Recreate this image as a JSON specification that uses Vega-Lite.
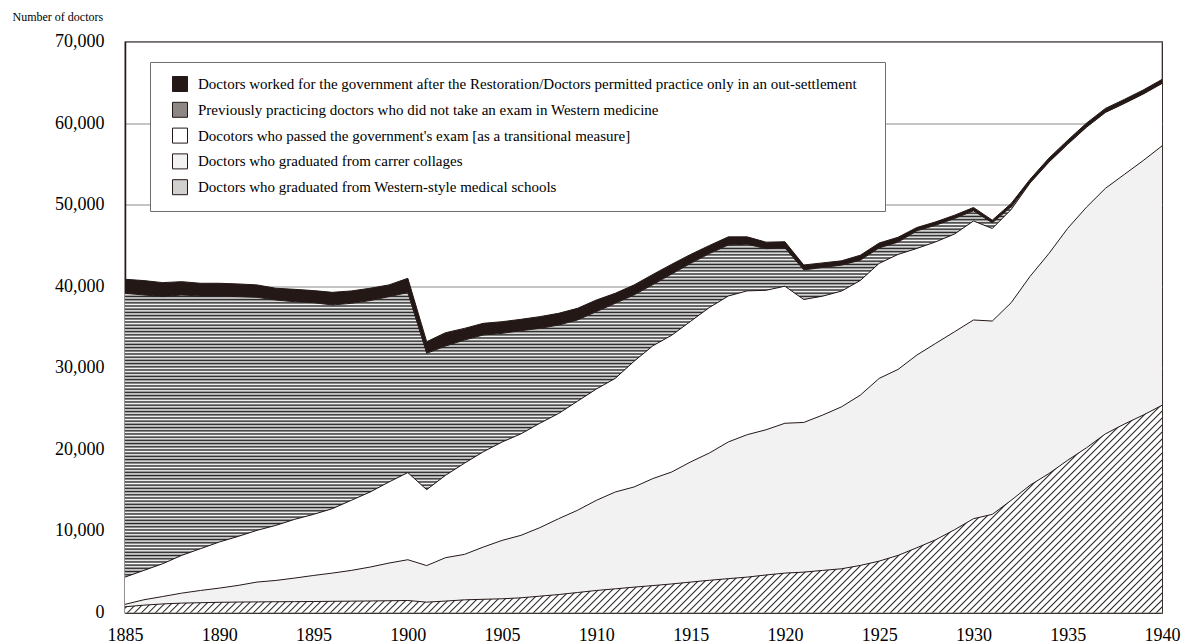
{
  "$schema": "https://vega.github.io/schema/vega-lite/v6.json",
  "autosize": {"type": "none"},
  "width": 1037,
  "height": 571,
  "padding": {"left": 125, "top": 41.5, "right": 22, "bottom": 31.5},
  "background": "white",
  "config": {
    "font": "Liberation Serif",
    "view": {"stroke": "#231815", "strokeWidth": 1.2},
    "axis": {"labelColor": "#000", "titleColor": "#000", "labelFont": "Liberation Serif", "titleFont": "Liberation Serif"}
  },
  "data": {"values": [
    {"year":1885,"western_top":700,"career_top":1000,"exam_top":4340,"previous_top":39130,"total":40850},
    {"year":1886,"western_top":900,"career_top":1560,"exam_top":5160,"previous_top":38930,"total":40690},
    {"year":1887,"western_top":1050,"career_top":1960,"exam_top":5980,"previous_top":38720,"total":40440},
    {"year":1888,"western_top":1150,"career_top":2370,"exam_top":7000,"previous_top":38930,"total":40560},
    {"year":1889,"western_top":1200,"career_top":2700,"exam_top":7820,"previous_top":38800,"total":40360},
    {"year":1890,"western_top":1250,"career_top":2990,"exam_top":8640,"previous_top":38800,"total":40360},
    {"year":1891,"western_top":1280,"career_top":3320,"exam_top":9330,"previous_top":38720,"total":40280},
    {"year":1892,"western_top":1300,"career_top":3730,"exam_top":10070,"previous_top":38640,"total":40160},
    {"year":1893,"western_top":1320,"career_top":3930,"exam_top":10680,"previous_top":38310,"total":39750},
    {"year":1894,"western_top":1330,"career_top":4220,"exam_top":11420,"previous_top":38100,"total":39620},
    {"year":1895,"western_top":1350,"career_top":4540,"exam_top":12030,"previous_top":37980,"total":39460},
    {"year":1896,"western_top":1370,"career_top":4830,"exam_top":12730,"previous_top":37700,"total":39250},
    {"year":1897,"western_top":1390,"career_top":5160,"exam_top":13750,"previous_top":37900,"total":39420},
    {"year":1898,"western_top":1410,"career_top":5570,"exam_top":14770,"previous_top":38240,"total":39750},
    {"year":1899,"western_top":1440,"career_top":6060,"exam_top":16000,"previous_top":38720,"total":40160},
    {"year":1900,"western_top":1470,"career_top":6470,"exam_top":17150,"previous_top":39220,"total":40970},
    {"year":1901,"western_top":1270,"career_top":5750,"exam_top":15060,"previous_top":31770,"total":33200},
    {"year":1902,"western_top":1400,"career_top":6720,"exam_top":16820,"previous_top":32660,"total":34300},
    {"year":1903,"western_top":1550,"career_top":7120,"exam_top":18300,"previous_top":33400,"total":34830},
    {"year":1904,"western_top":1620,"career_top":8020,"exam_top":19700,"previous_top":34020,"total":35450},
    {"year":1905,"western_top":1680,"career_top":8840,"exam_top":20900,"previous_top":34220,"total":35650},
    {"year":1906,"western_top":1800,"career_top":9460,"exam_top":21900,"previous_top":34550,"total":35940},
    {"year":1907,"western_top":2000,"career_top":10400,"exam_top":23200,"previous_top":34830,"total":36270},
    {"year":1908,"western_top":2200,"career_top":11500,"exam_top":24400,"previous_top":35240,"total":36680},
    {"year":1909,"western_top":2450,"career_top":12530,"exam_top":25900,"previous_top":35860,"total":37290},
    {"year":1910,"western_top":2700,"career_top":13750,"exam_top":27400,"previous_top":36880,"total":38310},
    {"year":1911,"western_top":2900,"career_top":14770,"exam_top":28700,"previous_top":37900,"total":39130},
    {"year":1912,"western_top":3110,"career_top":15390,"exam_top":30800,"previous_top":38930,"total":40160},
    {"year":1913,"western_top":3300,"career_top":16420,"exam_top":32700,"previous_top":40200,"total":41450},
    {"year":1914,"western_top":3500,"career_top":17230,"exam_top":34000,"previous_top":41500,"total":42700},
    {"year":1915,"western_top":3730,"career_top":18460,"exam_top":35700,"previous_top":42800,"total":43900},
    {"year":1916,"western_top":3950,"career_top":19560,"exam_top":37400,"previous_top":44000,"total":45000},
    {"year":1917,"western_top":4150,"career_top":20910,"exam_top":38800,"previous_top":45050,"total":46050},
    {"year":1918,"western_top":4340,"career_top":21800,"exam_top":39430,"previous_top":45150,"total":46050},
    {"year":1919,"western_top":4600,"career_top":22400,"exam_top":39500,"previous_top":44600,"total":45400},
    {"year":1920,"western_top":4830,"career_top":23200,"exam_top":40000,"previous_top":44700,"total":45450},
    {"year":1921,"western_top":4950,"career_top":23300,"exam_top":38370,"previous_top":42000,"total":42600},
    {"year":1922,"western_top":5160,"career_top":24200,"exam_top":38780,"previous_top":42300,"total":42860},
    {"year":1923,"western_top":5360,"career_top":25210,"exam_top":39400,"previous_top":42580,"total":43110},
    {"year":1924,"western_top":5770,"career_top":26650,"exam_top":40700,"previous_top":43190,"total":43800},
    {"year":1925,"western_top":6300,"career_top":28700,"exam_top":42800,"previous_top":44700,"total":45300},
    {"year":1926,"western_top":7000,"career_top":29800,"exam_top":43900,"previous_top":45400,"total":46000},
    {"year":1927,"western_top":7940,"career_top":31560,"exam_top":44630,"previous_top":46790,"total":47200},
    {"year":1928,"western_top":8920,"career_top":33000,"exam_top":45440,"previous_top":47480,"total":47890},
    {"year":1929,"western_top":10150,"career_top":34420,"exam_top":46400,"previous_top":48300,"total":48710},
    {"year":1930,"western_top":11500,"career_top":35860,"exam_top":48000,"previous_top":49240,"total":49650},
    {"year":1931,"western_top":12030,"career_top":35730,"exam_top":47080,"previous_top":47770,"total":48100},
    {"year":1932,"western_top":13750,"career_top":37980,"exam_top":49400,"previous_top":49730,"total":50140},
    {"year":1933,"western_top":15600,"career_top":41200,"exam_top":52650,"previous_top":52700,"total":53100},
    {"year":1934,"western_top":17030,"career_top":44000,"exam_top":55200,"previous_top":55250,"total":55700},
    {"year":1935,"western_top":18670,"career_top":47100,"exam_top":57400,"previous_top":57450,"total":57900},
    {"year":1936,"western_top":20200,"career_top":49700,"exam_top":59500,"previous_top":59550,"total":60000},
    {"year":1937,"western_top":21900,"career_top":52000,"exam_top":61300,"previous_top":61350,"total":61800},
    {"year":1938,"western_top":23100,"career_top":53700,"exam_top":62400,"previous_top":62450,"total":62900},
    {"year":1939,"western_top":24200,"career_top":55400,"exam_top":63550,"previous_top":63600,"total":64050},
    {"year":1940,"western_top":25400,"career_top":57200,"exam_top":64850,"previous_top":64900,"total":65350}
  ]},
  "encoding": {
    "x": {"field": "year", "type": "quantitative",
      "scale": {"domain": [1885, 1940], "nice": false, "zero": false},
      "axis": {"title": null, "values": [1885,1890,1895,1900,1905,1910,1915,1920,1925,1930,1935,1940], "format": "d",
        "grid": false, "ticks": false, "labelFontSize": 18, "labelPadding": 14, "labelFlush": false, "labelOverlap": false,
        "domainColor": "#231815", "domainWidth": 1.5}}
  },
  "layer": [
    {"mark": {"type": "area", "opacity": 1},
     "encoding": {
       "y": {"field": "western_top", "type": "quantitative",
         "scale": {"domain": [0, 70000], "nice": false},
         "axis": {"title": "Number of doctors", "titleAngle": 0, "titleAlign": "left", "titleBaseline": "alphabetic",
           "titleX": -113, "titleY": -21, "titleFontSize": 12, "titleFontWeight": "normal",
           "values": [0,10000,20000,30000,40000,50000,60000,70000], "format": ",.0f",
           "grid": true, "gridColor": "#8a8a8a", "gridWidth": 1, "ticks": false,
           "labelFontSize": 18, "labelPadding": 21, "labelFlush": false, "labelOverlap": false,
           "domainColor": "#231815", "domainWidth": 1.5}},
       "y2": {"datum": 0},
       "color": {"datum": "Doctors who graduated from Western-style medical schools", "type": "nominal",
         "scale": {
           "domain": [
             "Doctors worked for the government after the Restoration/Doctors permitted practice only in an out-settlement",
             "Previously practicing doctors who did not take an exam in Western medicine",
             "Docotors who passed the government's exam [as a transitional measure]",
             "Doctors who graduated from carrer collages",
             "Doctors who graduated from Western-style medical schools"],
           "range": ["#231815", "#8c8685", "#ffffff", "#f2f2f2", "#d2cfcf"]},
         "legend": {"title": "\u00a0", "titleOrient": "right", "titlePadding": 14, "titleFontSize": 15,
           "orient": "none", "legendX": 25, "legendY": 20.5,
           "padding": 14, "symbolType": "square", "symbolSize": 225, "symbolStrokeColor": "#231815", "symbolStrokeWidth": 1,
           "symbolOffset": 8, "labelOffset": 10, "labelFontSize": 15, "labelFont": "Liberation Serif", "labelColor": "#000",
           "labelLimit": 1000, "rowPadding": 5.8, "strokeColor": "#6e6e6e", "fillColor": "white", "symbolOpacity": 1}}
     }},
    {"mark": {"type": "area", "opacity": 1},
     "encoding": {"y": {"field": "career_top", "type": "quantitative"}, "y2": {"field": "western_top"},
       "color": {"datum": "Doctors who graduated from carrer collages", "type": "nominal"}}},
    {"mark": {"type": "area", "opacity": 1},
     "encoding": {"y": {"field": "exam_top", "type": "quantitative"}, "y2": {"field": "career_top"},
       "color": {"datum": "Docotors who passed the government's exam [as a transitional measure]", "type": "nominal"}}},
    {"mark": {"type": "area", "opacity": 1},
     "encoding": {"y": {"field": "previous_top", "type": "quantitative"}, "y2": {"field": "exam_top"},
       "color": {"datum": "Previously practicing doctors who did not take an exam in Western medicine", "type": "nominal"}}},
    {"mark": {"type": "area", "opacity": 1},
     "encoding": {"y": {"field": "total", "type": "quantitative"}, "y2": {"field": "previous_top"},
       "color": {"datum": "Doctors worked for the government after the Restoration/Doctors permitted practice only in an out-settlement", "type": "nominal"}}},
    {"transform": [{"filter": "datum.year <= 1932"}],
     "mark": {"type": "area", "opacity": 1, "fill": {"gradient": "linear", "x1": 0, "y1": 0, "x2": 0, "y2": 1.08, "stops": [
{"offset":0,"color":"#222"},{"offset":0.004,"color":"#fff"},{"offset":0.008,"color":"#222"},{"offset":0.012,"color":"#fff"},{"offset":0.016,"color":"#222"},{"offset":0.02,"color":"#fff"},{"offset":0.024,"color":"#222"},{"offset":0.028,"color":"#fff"},{"offset":0.032,"color":"#222"},{"offset":0.036,"color":"#fff"},
{"offset":0.04,"color":"#222"},{"offset":0.044,"color":"#fff"},{"offset":0.048,"color":"#222"},{"offset":0.052,"color":"#fff"},{"offset":0.056,"color":"#222"},{"offset":0.06,"color":"#fff"},{"offset":0.064,"color":"#222"},{"offset":0.068,"color":"#fff"},{"offset":0.072,"color":"#222"},{"offset":0.076,"color":"#fff"},
{"offset":0.08,"color":"#222"},{"offset":0.084,"color":"#fff"},{"offset":0.088,"color":"#222"},{"offset":0.092,"color":"#fff"},{"offset":0.096,"color":"#222"},{"offset":0.1,"color":"#fff"},{"offset":0.104,"color":"#222"},{"offset":0.108,"color":"#fff"},{"offset":0.112,"color":"#222"},{"offset":0.116,"color":"#fff"},
{"offset":0.12,"color":"#222"},{"offset":0.124,"color":"#fff"},{"offset":0.128,"color":"#222"},{"offset":0.132,"color":"#fff"},{"offset":0.136,"color":"#222"},{"offset":0.14,"color":"#fff"},{"offset":0.144,"color":"#222"},{"offset":0.148,"color":"#fff"},{"offset":0.152,"color":"#222"},{"offset":0.156,"color":"#fff"},
{"offset":0.16,"color":"#222"},{"offset":0.164,"color":"#fff"},{"offset":0.168,"color":"#222"},{"offset":0.172,"color":"#fff"},{"offset":0.176,"color":"#222"},{"offset":0.18,"color":"#fff"},{"offset":0.184,"color":"#222"},{"offset":0.188,"color":"#fff"},{"offset":0.192,"color":"#222"},{"offset":0.196,"color":"#fff"},
{"offset":0.2,"color":"#222"},{"offset":0.204,"color":"#fff"},{"offset":0.208,"color":"#222"},{"offset":0.212,"color":"#fff"},{"offset":0.216,"color":"#222"},{"offset":0.22,"color":"#fff"},{"offset":0.224,"color":"#222"},{"offset":0.228,"color":"#fff"},{"offset":0.232,"color":"#222"},{"offset":0.236,"color":"#fff"},
{"offset":0.24,"color":"#222"},{"offset":0.244,"color":"#fff"},{"offset":0.248,"color":"#222"},{"offset":0.252,"color":"#fff"},{"offset":0.256,"color":"#222"},{"offset":0.26,"color":"#fff"},{"offset":0.264,"color":"#222"},{"offset":0.268,"color":"#fff"},{"offset":0.272,"color":"#222"},{"offset":0.276,"color":"#fff"},
{"offset":0.28,"color":"#222"},{"offset":0.284,"color":"#fff"},{"offset":0.288,"color":"#222"},{"offset":0.292,"color":"#fff"},{"offset":0.296,"color":"#222"},{"offset":0.3,"color":"#fff"},{"offset":0.304,"color":"#222"},{"offset":0.308,"color":"#fff"},{"offset":0.312,"color":"#222"},{"offset":0.316,"color":"#fff"},
{"offset":0.32,"color":"#222"},{"offset":0.324,"color":"#fff"},{"offset":0.328,"color":"#222"},{"offset":0.332,"color":"#fff"},{"offset":0.336,"color":"#222"},{"offset":0.34,"color":"#fff"},{"offset":0.344,"color":"#222"},{"offset":0.348,"color":"#fff"},{"offset":0.352,"color":"#222"},{"offset":0.356,"color":"#fff"},
{"offset":0.36,"color":"#222"},{"offset":0.364,"color":"#fff"},{"offset":0.368,"color":"#222"},{"offset":0.372,"color":"#fff"},{"offset":0.376,"color":"#222"},{"offset":0.38,"color":"#fff"},{"offset":0.384,"color":"#222"},{"offset":0.388,"color":"#fff"},{"offset":0.392,"color":"#222"},{"offset":0.396,"color":"#fff"},
{"offset":0.4,"color":"#222"},{"offset":0.404,"color":"#fff"},{"offset":0.408,"color":"#222"},{"offset":0.412,"color":"#fff"},{"offset":0.416,"color":"#222"},{"offset":0.42,"color":"#fff"},{"offset":0.424,"color":"#222"},{"offset":0.428,"color":"#fff"},{"offset":0.432,"color":"#222"},{"offset":0.436,"color":"#fff"},
{"offset":0.44,"color":"#222"},{"offset":0.444,"color":"#fff"},{"offset":0.448,"color":"#222"},{"offset":0.452,"color":"#fff"},{"offset":0.456,"color":"#222"},{"offset":0.46,"color":"#fff"},{"offset":0.464,"color":"#222"},{"offset":0.468,"color":"#fff"},{"offset":0.472,"color":"#222"},{"offset":0.476,"color":"#fff"},
{"offset":0.48,"color":"#222"},{"offset":0.484,"color":"#fff"},{"offset":0.488,"color":"#222"},{"offset":0.492,"color":"#fff"},{"offset":0.496,"color":"#222"},{"offset":0.5,"color":"#fff"},{"offset":0.504,"color":"#222"},{"offset":0.508,"color":"#fff"},{"offset":0.512,"color":"#222"},{"offset":0.516,"color":"#fff"},
{"offset":0.52,"color":"#222"},{"offset":0.524,"color":"#fff"},{"offset":0.528,"color":"#222"},{"offset":0.532,"color":"#fff"},{"offset":0.536,"color":"#222"},{"offset":0.54,"color":"#fff"},{"offset":0.544,"color":"#222"},{"offset":0.548,"color":"#fff"},{"offset":0.552,"color":"#222"},{"offset":0.556,"color":"#fff"},
{"offset":0.56,"color":"#222"},{"offset":0.564,"color":"#fff"},{"offset":0.568,"color":"#222"},{"offset":0.572,"color":"#fff"},{"offset":0.576,"color":"#222"},{"offset":0.58,"color":"#fff"},{"offset":0.584,"color":"#222"},{"offset":0.588,"color":"#fff"},{"offset":0.592,"color":"#222"},{"offset":0.596,"color":"#fff"},
{"offset":0.6,"color":"#222"},{"offset":0.604,"color":"#fff"},{"offset":0.608,"color":"#222"},{"offset":0.612,"color":"#fff"},{"offset":0.616,"color":"#222"},{"offset":0.62,"color":"#fff"},{"offset":0.624,"color":"#222"},{"offset":0.628,"color":"#fff"},{"offset":0.632,"color":"#222"},{"offset":0.636,"color":"#fff"},
{"offset":0.64,"color":"#222"},{"offset":0.644,"color":"#fff"},{"offset":0.648,"color":"#222"},{"offset":0.652,"color":"#fff"},{"offset":0.656,"color":"#222"},{"offset":0.66,"color":"#fff"},{"offset":0.664,"color":"#222"},{"offset":0.668,"color":"#fff"},{"offset":0.672,"color":"#222"},{"offset":0.676,"color":"#fff"},
{"offset":0.68,"color":"#222"},{"offset":0.684,"color":"#fff"},{"offset":0.688,"color":"#222"},{"offset":0.692,"color":"#fff"},{"offset":0.696,"color":"#222"},{"offset":0.7,"color":"#fff"},{"offset":0.704,"color":"#222"},{"offset":0.708,"color":"#fff"},{"offset":0.712,"color":"#222"},{"offset":0.716,"color":"#fff"},
{"offset":0.72,"color":"#222"},{"offset":0.724,"color":"#fff"},{"offset":0.728,"color":"#222"},{"offset":0.732,"color":"#fff"},{"offset":0.736,"color":"#222"},{"offset":0.74,"color":"#fff"},{"offset":0.744,"color":"#222"},{"offset":0.748,"color":"#fff"},{"offset":0.752,"color":"#222"},{"offset":0.756,"color":"#fff"},
{"offset":0.76,"color":"#222"},{"offset":0.764,"color":"#fff"},{"offset":0.768,"color":"#222"},{"offset":0.772,"color":"#fff"},{"offset":0.776,"color":"#222"},{"offset":0.78,"color":"#fff"},{"offset":0.784,"color":"#222"},{"offset":0.788,"color":"#fff"},{"offset":0.792,"color":"#222"},{"offset":0.796,"color":"#fff"},
{"offset":0.8,"color":"#222"},{"offset":0.804,"color":"#fff"},{"offset":0.808,"color":"#222"},{"offset":0.812,"color":"#fff"},{"offset":0.816,"color":"#222"},{"offset":0.82,"color":"#fff"},{"offset":0.824,"color":"#222"},{"offset":0.828,"color":"#fff"},{"offset":0.832,"color":"#222"},{"offset":0.836,"color":"#fff"},
{"offset":0.84,"color":"#222"},{"offset":0.844,"color":"#fff"},{"offset":0.848,"color":"#222"},{"offset":0.852,"color":"#fff"},{"offset":0.856,"color":"#222"},{"offset":0.86,"color":"#fff"},{"offset":0.864,"color":"#222"},{"offset":0.868,"color":"#fff"},{"offset":0.872,"color":"#222"},{"offset":0.876,"color":"#fff"},
{"offset":0.88,"color":"#222"},{"offset":0.884,"color":"#fff"},{"offset":0.888,"color":"#222"},{"offset":0.892,"color":"#fff"},{"offset":0.896,"color":"#222"},{"offset":0.9,"color":"#fff"},{"offset":0.904,"color":"#222"},{"offset":0.908,"color":"#fff"},{"offset":0.912,"color":"#222"},{"offset":0.916,"color":"#fff"},
{"offset":0.92,"color":"#222"},{"offset":0.924,"color":"#fff"},{"offset":0.928,"color":"#222"},{"offset":0.932,"color":"#fff"},{"offset":0.936,"color":"#222"},{"offset":0.94,"color":"#fff"}
     ]}},
     "encoding": {"y": {"field": "previous_top", "type": "quantitative"}, "y2": {"field": "exam_top"}}},
    {"mark": {"type": "area", "opacity": 1, "fill": {"gradient": "linear", "x1": 0, "y1": 0, "x2": 1.298, "y2": 0.2594, "stops": [
{"offset":0,"color":"#222"},{"offset":0.001,"color":"#fff"},{"offset":0.004,"color":"#fff"},{"offset":0.005,"color":"#222"},{"offset":0.006,"color":"#fff"},{"offset":0.009,"color":"#fff"},{"offset":0.01,"color":"#222"},{"offset":0.011,"color":"#fff"},{"offset":0.014,"color":"#fff"},{"offset":0.015,"color":"#222"},{"offset":0.016,"color":"#fff"},{"offset":0.019,"color":"#fff"},{"offset":0.02,"color":"#222"},{"offset":0.021,"color":"#fff"},{"offset":0.024,"color":"#fff"},{"offset":0.025,"color":"#222"},{"offset":0.026,"color":"#fff"},{"offset":0.029,"color":"#fff"},{"offset":0.03,"color":"#222"},{"offset":0.031,"color":"#fff"},{"offset":0.034,"color":"#fff"},{"offset":0.035,"color":"#222"},{"offset":0.036,"color":"#fff"},{"offset":0.039,"color":"#fff"},{"offset":0.04,"color":"#222"},{"offset":0.041,"color":"#fff"},{"offset":0.044,"color":"#fff"},{"offset":0.045,"color":"#222"},{"offset":0.046,"color":"#fff"},{"offset":0.049,"color":"#fff"},
{"offset":0.05,"color":"#222"},{"offset":0.051,"color":"#fff"},{"offset":0.054,"color":"#fff"},{"offset":0.055,"color":"#222"},{"offset":0.056,"color":"#fff"},{"offset":0.059,"color":"#fff"},{"offset":0.06,"color":"#222"},{"offset":0.061,"color":"#fff"},{"offset":0.064,"color":"#fff"},{"offset":0.065,"color":"#222"},{"offset":0.066,"color":"#fff"},{"offset":0.069,"color":"#fff"},{"offset":0.07,"color":"#222"},{"offset":0.071,"color":"#fff"},{"offset":0.074,"color":"#fff"},{"offset":0.075,"color":"#222"},{"offset":0.076,"color":"#fff"},{"offset":0.079,"color":"#fff"},{"offset":0.08,"color":"#222"},{"offset":0.081,"color":"#fff"},{"offset":0.084,"color":"#fff"},{"offset":0.085,"color":"#222"},{"offset":0.086,"color":"#fff"},{"offset":0.089,"color":"#fff"},{"offset":0.09,"color":"#222"},{"offset":0.091,"color":"#fff"},{"offset":0.094,"color":"#fff"},{"offset":0.095,"color":"#222"},{"offset":0.096,"color":"#fff"},{"offset":0.099,"color":"#fff"},
{"offset":0.1,"color":"#222"},{"offset":0.101,"color":"#fff"},{"offset":0.104,"color":"#fff"},{"offset":0.105,"color":"#222"},{"offset":0.106,"color":"#fff"},{"offset":0.109,"color":"#fff"},{"offset":0.11,"color":"#222"},{"offset":0.111,"color":"#fff"},{"offset":0.114,"color":"#fff"},{"offset":0.115,"color":"#222"},{"offset":0.116,"color":"#fff"},{"offset":0.119,"color":"#fff"},{"offset":0.12,"color":"#222"},{"offset":0.121,"color":"#fff"},{"offset":0.124,"color":"#fff"},{"offset":0.125,"color":"#222"},{"offset":0.126,"color":"#fff"},{"offset":0.129,"color":"#fff"},{"offset":0.13,"color":"#222"},{"offset":0.131,"color":"#fff"},{"offset":0.134,"color":"#fff"},{"offset":0.135,"color":"#222"},{"offset":0.136,"color":"#fff"},{"offset":0.139,"color":"#fff"},{"offset":0.14,"color":"#222"},{"offset":0.141,"color":"#fff"},{"offset":0.144,"color":"#fff"},{"offset":0.145,"color":"#222"},{"offset":0.146,"color":"#fff"},{"offset":0.149,"color":"#fff"},
{"offset":0.15,"color":"#222"},{"offset":0.151,"color":"#fff"},{"offset":0.154,"color":"#fff"},{"offset":0.155,"color":"#222"},{"offset":0.156,"color":"#fff"},{"offset":0.159,"color":"#fff"},{"offset":0.16,"color":"#222"},{"offset":0.161,"color":"#fff"},{"offset":0.164,"color":"#fff"},{"offset":0.165,"color":"#222"},{"offset":0.166,"color":"#fff"},{"offset":0.169,"color":"#fff"},{"offset":0.17,"color":"#222"},{"offset":0.171,"color":"#fff"},{"offset":0.174,"color":"#fff"},{"offset":0.175,"color":"#222"},{"offset":0.176,"color":"#fff"},{"offset":0.179,"color":"#fff"},{"offset":0.18,"color":"#222"},{"offset":0.181,"color":"#fff"},{"offset":0.184,"color":"#fff"},{"offset":0.185,"color":"#222"},{"offset":0.186,"color":"#fff"},{"offset":0.189,"color":"#fff"},{"offset":0.19,"color":"#222"},{"offset":0.191,"color":"#fff"},{"offset":0.194,"color":"#fff"},{"offset":0.195,"color":"#222"},{"offset":0.196,"color":"#fff"},{"offset":0.199,"color":"#fff"},
{"offset":0.2,"color":"#222"},{"offset":0.201,"color":"#fff"},{"offset":0.204,"color":"#fff"},{"offset":0.205,"color":"#222"},{"offset":0.206,"color":"#fff"},{"offset":0.209,"color":"#fff"},{"offset":0.21,"color":"#222"},{"offset":0.211,"color":"#fff"},{"offset":0.214,"color":"#fff"},{"offset":0.215,"color":"#222"},{"offset":0.216,"color":"#fff"},{"offset":0.219,"color":"#fff"},{"offset":0.22,"color":"#222"},{"offset":0.221,"color":"#fff"},{"offset":0.224,"color":"#fff"},{"offset":0.225,"color":"#222"},{"offset":0.226,"color":"#fff"},{"offset":0.229,"color":"#fff"},{"offset":0.23,"color":"#222"},{"offset":0.231,"color":"#fff"},{"offset":0.234,"color":"#fff"},{"offset":0.235,"color":"#222"},{"offset":0.236,"color":"#fff"},{"offset":0.239,"color":"#fff"},{"offset":0.24,"color":"#222"},{"offset":0.241,"color":"#fff"},{"offset":0.244,"color":"#fff"},{"offset":0.245,"color":"#222"},{"offset":0.246,"color":"#fff"},{"offset":0.249,"color":"#fff"},
{"offset":0.25,"color":"#222"},{"offset":0.251,"color":"#fff"},{"offset":0.254,"color":"#fff"},{"offset":0.255,"color":"#222"},{"offset":0.256,"color":"#fff"},{"offset":0.259,"color":"#fff"},{"offset":0.26,"color":"#222"},{"offset":0.261,"color":"#fff"},{"offset":0.264,"color":"#fff"},{"offset":0.265,"color":"#222"},{"offset":0.266,"color":"#fff"},{"offset":0.269,"color":"#fff"},{"offset":0.27,"color":"#222"},{"offset":0.271,"color":"#fff"},{"offset":0.274,"color":"#fff"},{"offset":0.275,"color":"#222"},{"offset":0.276,"color":"#fff"},{"offset":0.279,"color":"#fff"},{"offset":0.28,"color":"#222"},{"offset":0.281,"color":"#fff"},{"offset":0.284,"color":"#fff"},{"offset":0.285,"color":"#222"},{"offset":0.286,"color":"#fff"},{"offset":0.289,"color":"#fff"},{"offset":0.29,"color":"#222"},{"offset":0.291,"color":"#fff"},{"offset":0.294,"color":"#fff"},{"offset":0.295,"color":"#222"},{"offset":0.296,"color":"#fff"},{"offset":0.299,"color":"#fff"},
{"offset":0.3,"color":"#222"},{"offset":0.301,"color":"#fff"},{"offset":0.304,"color":"#fff"},{"offset":0.305,"color":"#222"},{"offset":0.306,"color":"#fff"},{"offset":0.309,"color":"#fff"},{"offset":0.31,"color":"#222"},{"offset":0.311,"color":"#fff"},{"offset":0.314,"color":"#fff"},{"offset":0.315,"color":"#222"},{"offset":0.316,"color":"#fff"},{"offset":0.319,"color":"#fff"},{"offset":0.32,"color":"#222"},{"offset":0.321,"color":"#fff"},{"offset":0.324,"color":"#fff"},{"offset":0.325,"color":"#222"},{"offset":0.326,"color":"#fff"},{"offset":0.329,"color":"#fff"},{"offset":0.33,"color":"#222"},{"offset":0.331,"color":"#fff"},{"offset":0.334,"color":"#fff"},{"offset":0.335,"color":"#222"},{"offset":0.336,"color":"#fff"},{"offset":0.339,"color":"#fff"},{"offset":0.34,"color":"#222"},{"offset":0.341,"color":"#fff"},{"offset":0.344,"color":"#fff"},{"offset":0.345,"color":"#222"},{"offset":0.346,"color":"#fff"},{"offset":0.349,"color":"#fff"},
{"offset":0.35,"color":"#222"},{"offset":0.351,"color":"#fff"},{"offset":0.354,"color":"#fff"},{"offset":0.355,"color":"#222"},{"offset":0.356,"color":"#fff"},{"offset":0.359,"color":"#fff"},{"offset":0.36,"color":"#222"},{"offset":0.361,"color":"#fff"},{"offset":0.364,"color":"#fff"},{"offset":0.365,"color":"#222"},{"offset":0.366,"color":"#fff"},{"offset":0.369,"color":"#fff"},{"offset":0.37,"color":"#222"},{"offset":0.371,"color":"#fff"},{"offset":0.374,"color":"#fff"},{"offset":0.375,"color":"#222"},{"offset":0.376,"color":"#fff"},{"offset":0.379,"color":"#fff"},{"offset":0.38,"color":"#222"},{"offset":0.381,"color":"#fff"},{"offset":0.384,"color":"#fff"},{"offset":0.385,"color":"#222"},{"offset":0.386,"color":"#fff"},{"offset":0.389,"color":"#fff"},{"offset":0.39,"color":"#222"},{"offset":0.391,"color":"#fff"},{"offset":0.394,"color":"#fff"},{"offset":0.395,"color":"#222"},{"offset":0.396,"color":"#fff"},{"offset":0.399,"color":"#fff"},
{"offset":0.4,"color":"#222"},{"offset":0.401,"color":"#fff"},{"offset":0.404,"color":"#fff"},{"offset":0.405,"color":"#222"},{"offset":0.406,"color":"#fff"},{"offset":0.409,"color":"#fff"},{"offset":0.41,"color":"#222"},{"offset":0.411,"color":"#fff"},{"offset":0.414,"color":"#fff"},{"offset":0.415,"color":"#222"},{"offset":0.416,"color":"#fff"},{"offset":0.419,"color":"#fff"},{"offset":0.42,"color":"#222"},{"offset":0.421,"color":"#fff"},{"offset":0.424,"color":"#fff"},{"offset":0.425,"color":"#222"},{"offset":0.426,"color":"#fff"},{"offset":0.429,"color":"#fff"},{"offset":0.43,"color":"#222"},{"offset":0.431,"color":"#fff"},{"offset":0.434,"color":"#fff"},{"offset":0.435,"color":"#222"},{"offset":0.436,"color":"#fff"},{"offset":0.439,"color":"#fff"},{"offset":0.44,"color":"#222"},{"offset":0.441,"color":"#fff"},{"offset":0.444,"color":"#fff"},{"offset":0.445,"color":"#222"},{"offset":0.446,"color":"#fff"},{"offset":0.449,"color":"#fff"},
{"offset":0.45,"color":"#222"},{"offset":0.451,"color":"#fff"},{"offset":0.454,"color":"#fff"},{"offset":0.455,"color":"#222"},{"offset":0.456,"color":"#fff"},{"offset":0.459,"color":"#fff"},{"offset":0.46,"color":"#222"},{"offset":0.461,"color":"#fff"},{"offset":0.464,"color":"#fff"},{"offset":0.465,"color":"#222"},{"offset":0.466,"color":"#fff"},{"offset":0.469,"color":"#fff"},{"offset":0.47,"color":"#222"},{"offset":0.471,"color":"#fff"},{"offset":0.474,"color":"#fff"},{"offset":0.475,"color":"#222"},{"offset":0.476,"color":"#fff"},{"offset":0.479,"color":"#fff"},{"offset":0.48,"color":"#222"},{"offset":0.481,"color":"#fff"},{"offset":0.484,"color":"#fff"},{"offset":0.485,"color":"#222"},{"offset":0.486,"color":"#fff"},{"offset":0.489,"color":"#fff"},{"offset":0.49,"color":"#222"},{"offset":0.491,"color":"#fff"},{"offset":0.494,"color":"#fff"},{"offset":0.495,"color":"#222"},{"offset":0.496,"color":"#fff"},{"offset":0.499,"color":"#fff"},
{"offset":0.5,"color":"#222"},{"offset":0.501,"color":"#fff"},{"offset":0.504,"color":"#fff"},{"offset":0.505,"color":"#222"},{"offset":0.506,"color":"#fff"},{"offset":0.509,"color":"#fff"},{"offset":0.51,"color":"#222"},{"offset":0.511,"color":"#fff"},{"offset":0.514,"color":"#fff"},{"offset":0.515,"color":"#222"},{"offset":0.516,"color":"#fff"},{"offset":0.519,"color":"#fff"},{"offset":0.52,"color":"#222"},{"offset":0.521,"color":"#fff"},{"offset":0.524,"color":"#fff"},{"offset":0.525,"color":"#222"},{"offset":0.526,"color":"#fff"},{"offset":0.529,"color":"#fff"},{"offset":0.53,"color":"#222"},{"offset":0.531,"color":"#fff"},{"offset":0.534,"color":"#fff"},{"offset":0.535,"color":"#222"},{"offset":0.536,"color":"#fff"},{"offset":0.539,"color":"#fff"},{"offset":0.54,"color":"#222"},{"offset":0.541,"color":"#fff"},{"offset":0.544,"color":"#fff"},{"offset":0.545,"color":"#222"},{"offset":0.546,"color":"#fff"},{"offset":0.549,"color":"#fff"},
{"offset":0.55,"color":"#222"},{"offset":0.551,"color":"#fff"},{"offset":0.554,"color":"#fff"},{"offset":0.555,"color":"#222"},{"offset":0.556,"color":"#fff"},{"offset":0.559,"color":"#fff"},{"offset":0.56,"color":"#222"},{"offset":0.561,"color":"#fff"},{"offset":0.564,"color":"#fff"},{"offset":0.565,"color":"#222"},{"offset":0.566,"color":"#fff"},{"offset":0.569,"color":"#fff"},{"offset":0.57,"color":"#222"},{"offset":0.571,"color":"#fff"},{"offset":0.574,"color":"#fff"},{"offset":0.575,"color":"#222"},{"offset":0.576,"color":"#fff"},{"offset":0.579,"color":"#fff"},{"offset":0.58,"color":"#222"},{"offset":0.581,"color":"#fff"},{"offset":0.584,"color":"#fff"},{"offset":0.585,"color":"#222"},{"offset":0.586,"color":"#fff"},{"offset":0.589,"color":"#fff"},{"offset":0.59,"color":"#222"},{"offset":0.591,"color":"#fff"},{"offset":0.594,"color":"#fff"},{"offset":0.595,"color":"#222"},{"offset":0.596,"color":"#fff"},{"offset":0.599,"color":"#fff"},
{"offset":0.6,"color":"#222"},{"offset":0.601,"color":"#fff"},{"offset":0.604,"color":"#fff"},{"offset":0.605,"color":"#222"},{"offset":0.606,"color":"#fff"},{"offset":0.609,"color":"#fff"},{"offset":0.61,"color":"#222"},{"offset":0.611,"color":"#fff"},{"offset":0.614,"color":"#fff"},{"offset":0.615,"color":"#222"},{"offset":0.616,"color":"#fff"},{"offset":0.619,"color":"#fff"},{"offset":0.62,"color":"#222"},{"offset":0.621,"color":"#fff"},{"offset":0.624,"color":"#fff"},{"offset":0.625,"color":"#222"},{"offset":0.626,"color":"#fff"},{"offset":0.629,"color":"#fff"},{"offset":0.63,"color":"#222"},{"offset":0.631,"color":"#fff"},{"offset":0.634,"color":"#fff"},{"offset":0.635,"color":"#222"},{"offset":0.636,"color":"#fff"},{"offset":0.639,"color":"#fff"},{"offset":0.64,"color":"#222"},{"offset":0.641,"color":"#fff"},{"offset":0.644,"color":"#fff"},{"offset":0.645,"color":"#222"},{"offset":0.646,"color":"#fff"},{"offset":0.649,"color":"#fff"},
{"offset":0.65,"color":"#222"},{"offset":0.651,"color":"#fff"},{"offset":0.654,"color":"#fff"},{"offset":0.655,"color":"#222"},{"offset":0.656,"color":"#fff"},{"offset":0.659,"color":"#fff"},{"offset":0.66,"color":"#222"},{"offset":0.661,"color":"#fff"},{"offset":0.664,"color":"#fff"},{"offset":0.665,"color":"#222"},{"offset":0.666,"color":"#fff"},{"offset":0.669,"color":"#fff"},{"offset":0.67,"color":"#222"},{"offset":0.671,"color":"#fff"},{"offset":0.674,"color":"#fff"},{"offset":0.675,"color":"#222"},{"offset":0.676,"color":"#fff"},{"offset":0.679,"color":"#fff"},{"offset":0.68,"color":"#222"},{"offset":0.681,"color":"#fff"},{"offset":0.684,"color":"#fff"},{"offset":0.685,"color":"#222"},{"offset":0.686,"color":"#fff"},{"offset":0.689,"color":"#fff"},{"offset":0.69,"color":"#222"},{"offset":0.691,"color":"#fff"},{"offset":0.694,"color":"#fff"},{"offset":0.695,"color":"#222"},{"offset":0.696,"color":"#fff"},{"offset":0.699,"color":"#fff"},
{"offset":0.7,"color":"#222"},{"offset":0.701,"color":"#fff"},{"offset":0.704,"color":"#fff"},{"offset":0.705,"color":"#222"},{"offset":0.706,"color":"#fff"},{"offset":0.709,"color":"#fff"},{"offset":0.71,"color":"#222"},{"offset":0.711,"color":"#fff"},{"offset":0.714,"color":"#fff"},{"offset":0.715,"color":"#222"},{"offset":0.716,"color":"#fff"},{"offset":0.719,"color":"#fff"},{"offset":0.72,"color":"#222"},{"offset":0.721,"color":"#fff"},{"offset":0.724,"color":"#fff"},{"offset":0.725,"color":"#222"},{"offset":0.726,"color":"#fff"},{"offset":0.729,"color":"#fff"},{"offset":0.73,"color":"#222"},{"offset":0.731,"color":"#fff"},{"offset":0.734,"color":"#fff"},{"offset":0.735,"color":"#222"},{"offset":0.736,"color":"#fff"},{"offset":0.739,"color":"#fff"},{"offset":0.74,"color":"#222"},{"offset":0.741,"color":"#fff"},{"offset":0.744,"color":"#fff"},{"offset":0.745,"color":"#222"},{"offset":0.746,"color":"#fff"},{"offset":0.749,"color":"#fff"},
{"offset":0.75,"color":"#222"},{"offset":0.751,"color":"#fff"},{"offset":0.754,"color":"#fff"},{"offset":0.755,"color":"#222"},{"offset":0.756,"color":"#fff"},{"offset":0.759,"color":"#fff"},{"offset":0.76,"color":"#222"},{"offset":0.761,"color":"#fff"},{"offset":0.764,"color":"#fff"},{"offset":0.765,"color":"#222"},{"offset":0.766,"color":"#fff"},{"offset":0.769,"color":"#fff"},{"offset":0.77,"color":"#222"},{"offset":0.771,"color":"#fff"},{"offset":0.774,"color":"#fff"},{"offset":0.775,"color":"#222"},{"offset":0.776,"color":"#fff"},{"offset":0.779,"color":"#fff"},{"offset":0.78,"color":"#222"},{"offset":0.781,"color":"#fff"},{"offset":0.784,"color":"#fff"},{"offset":0.785,"color":"#222"},{"offset":0.786,"color":"#fff"},{"offset":0.789,"color":"#fff"},{"offset":0.79,"color":"#222"},{"offset":0.791,"color":"#fff"},{"offset":0.794,"color":"#fff"},{"offset":0.795,"color":"#222"},{"offset":0.796,"color":"#fff"},{"offset":0.799,"color":"#fff"},
{"offset":0.8,"color":"#222"},{"offset":0.801,"color":"#fff"},{"offset":0.804,"color":"#fff"},{"offset":0.805,"color":"#222"},{"offset":0.806,"color":"#fff"},{"offset":0.809,"color":"#fff"},{"offset":0.81,"color":"#222"},{"offset":0.811,"color":"#fff"},{"offset":0.814,"color":"#fff"},{"offset":0.815,"color":"#222"},{"offset":0.816,"color":"#fff"},{"offset":0.819,"color":"#fff"},{"offset":0.82,"color":"#222"},{"offset":0.821,"color":"#fff"},{"offset":0.824,"color":"#fff"},{"offset":0.825,"color":"#222"},{"offset":0.826,"color":"#fff"},{"offset":0.829,"color":"#fff"},{"offset":0.83,"color":"#222"},{"offset":0.831,"color":"#fff"},{"offset":0.834,"color":"#fff"},{"offset":0.835,"color":"#222"},{"offset":0.836,"color":"#fff"},{"offset":0.839,"color":"#fff"},{"offset":0.84,"color":"#222"},{"offset":0.841,"color":"#fff"},{"offset":0.844,"color":"#fff"},{"offset":0.845,"color":"#222"},{"offset":0.846,"color":"#fff"},{"offset":0.849,"color":"#fff"},
{"offset":0.85,"color":"#222"},{"offset":0.851,"color":"#fff"},{"offset":0.854,"color":"#fff"},{"offset":0.855,"color":"#222"},{"offset":0.856,"color":"#fff"},{"offset":0.859,"color":"#fff"},{"offset":0.86,"color":"#222"},{"offset":0.861,"color":"#fff"},{"offset":0.864,"color":"#fff"},{"offset":0.865,"color":"#222"},{"offset":0.866,"color":"#fff"},{"offset":0.869,"color":"#fff"},{"offset":0.87,"color":"#222"},{"offset":0.871,"color":"#fff"},{"offset":0.874,"color":"#fff"},{"offset":0.875,"color":"#222"},{"offset":0.876,"color":"#fff"},{"offset":0.879,"color":"#fff"},{"offset":0.88,"color":"#222"},{"offset":0.881,"color":"#fff"},{"offset":0.884,"color":"#fff"},{"offset":0.885,"color":"#222"},{"offset":0.886,"color":"#fff"},{"offset":0.889,"color":"#fff"},{"offset":0.89,"color":"#222"},{"offset":0.891,"color":"#fff"}
     ]}},
     "encoding": {"y": {"field": "western_top", "type": "quantitative"}, "y2": {"datum": 0}}},
    {"mark": {"type": "line", "color": "#231815", "strokeWidth": 1}, "encoding": {"y": {"field": "western_top", "type": "quantitative"}}},
    {"mark": {"type": "line", "color": "#231815", "strokeWidth": 1}, "encoding": {"y": {"field": "career_top", "type": "quantitative"}}},
    {"mark": {"type": "line", "color": "#231815", "strokeWidth": 1}, "encoding": {"y": {"field": "exam_top", "type": "quantitative"}}},
    {"mark": {"type": "line", "color": "#231815", "strokeWidth": 1}, "encoding": {"y": {"field": "previous_top", "type": "quantitative"}}},
    {"mark": {"type": "line", "color": "#231815", "strokeWidth": 1}, "encoding": {"y": {"field": "total", "type": "quantitative"}}}
  ]
}
